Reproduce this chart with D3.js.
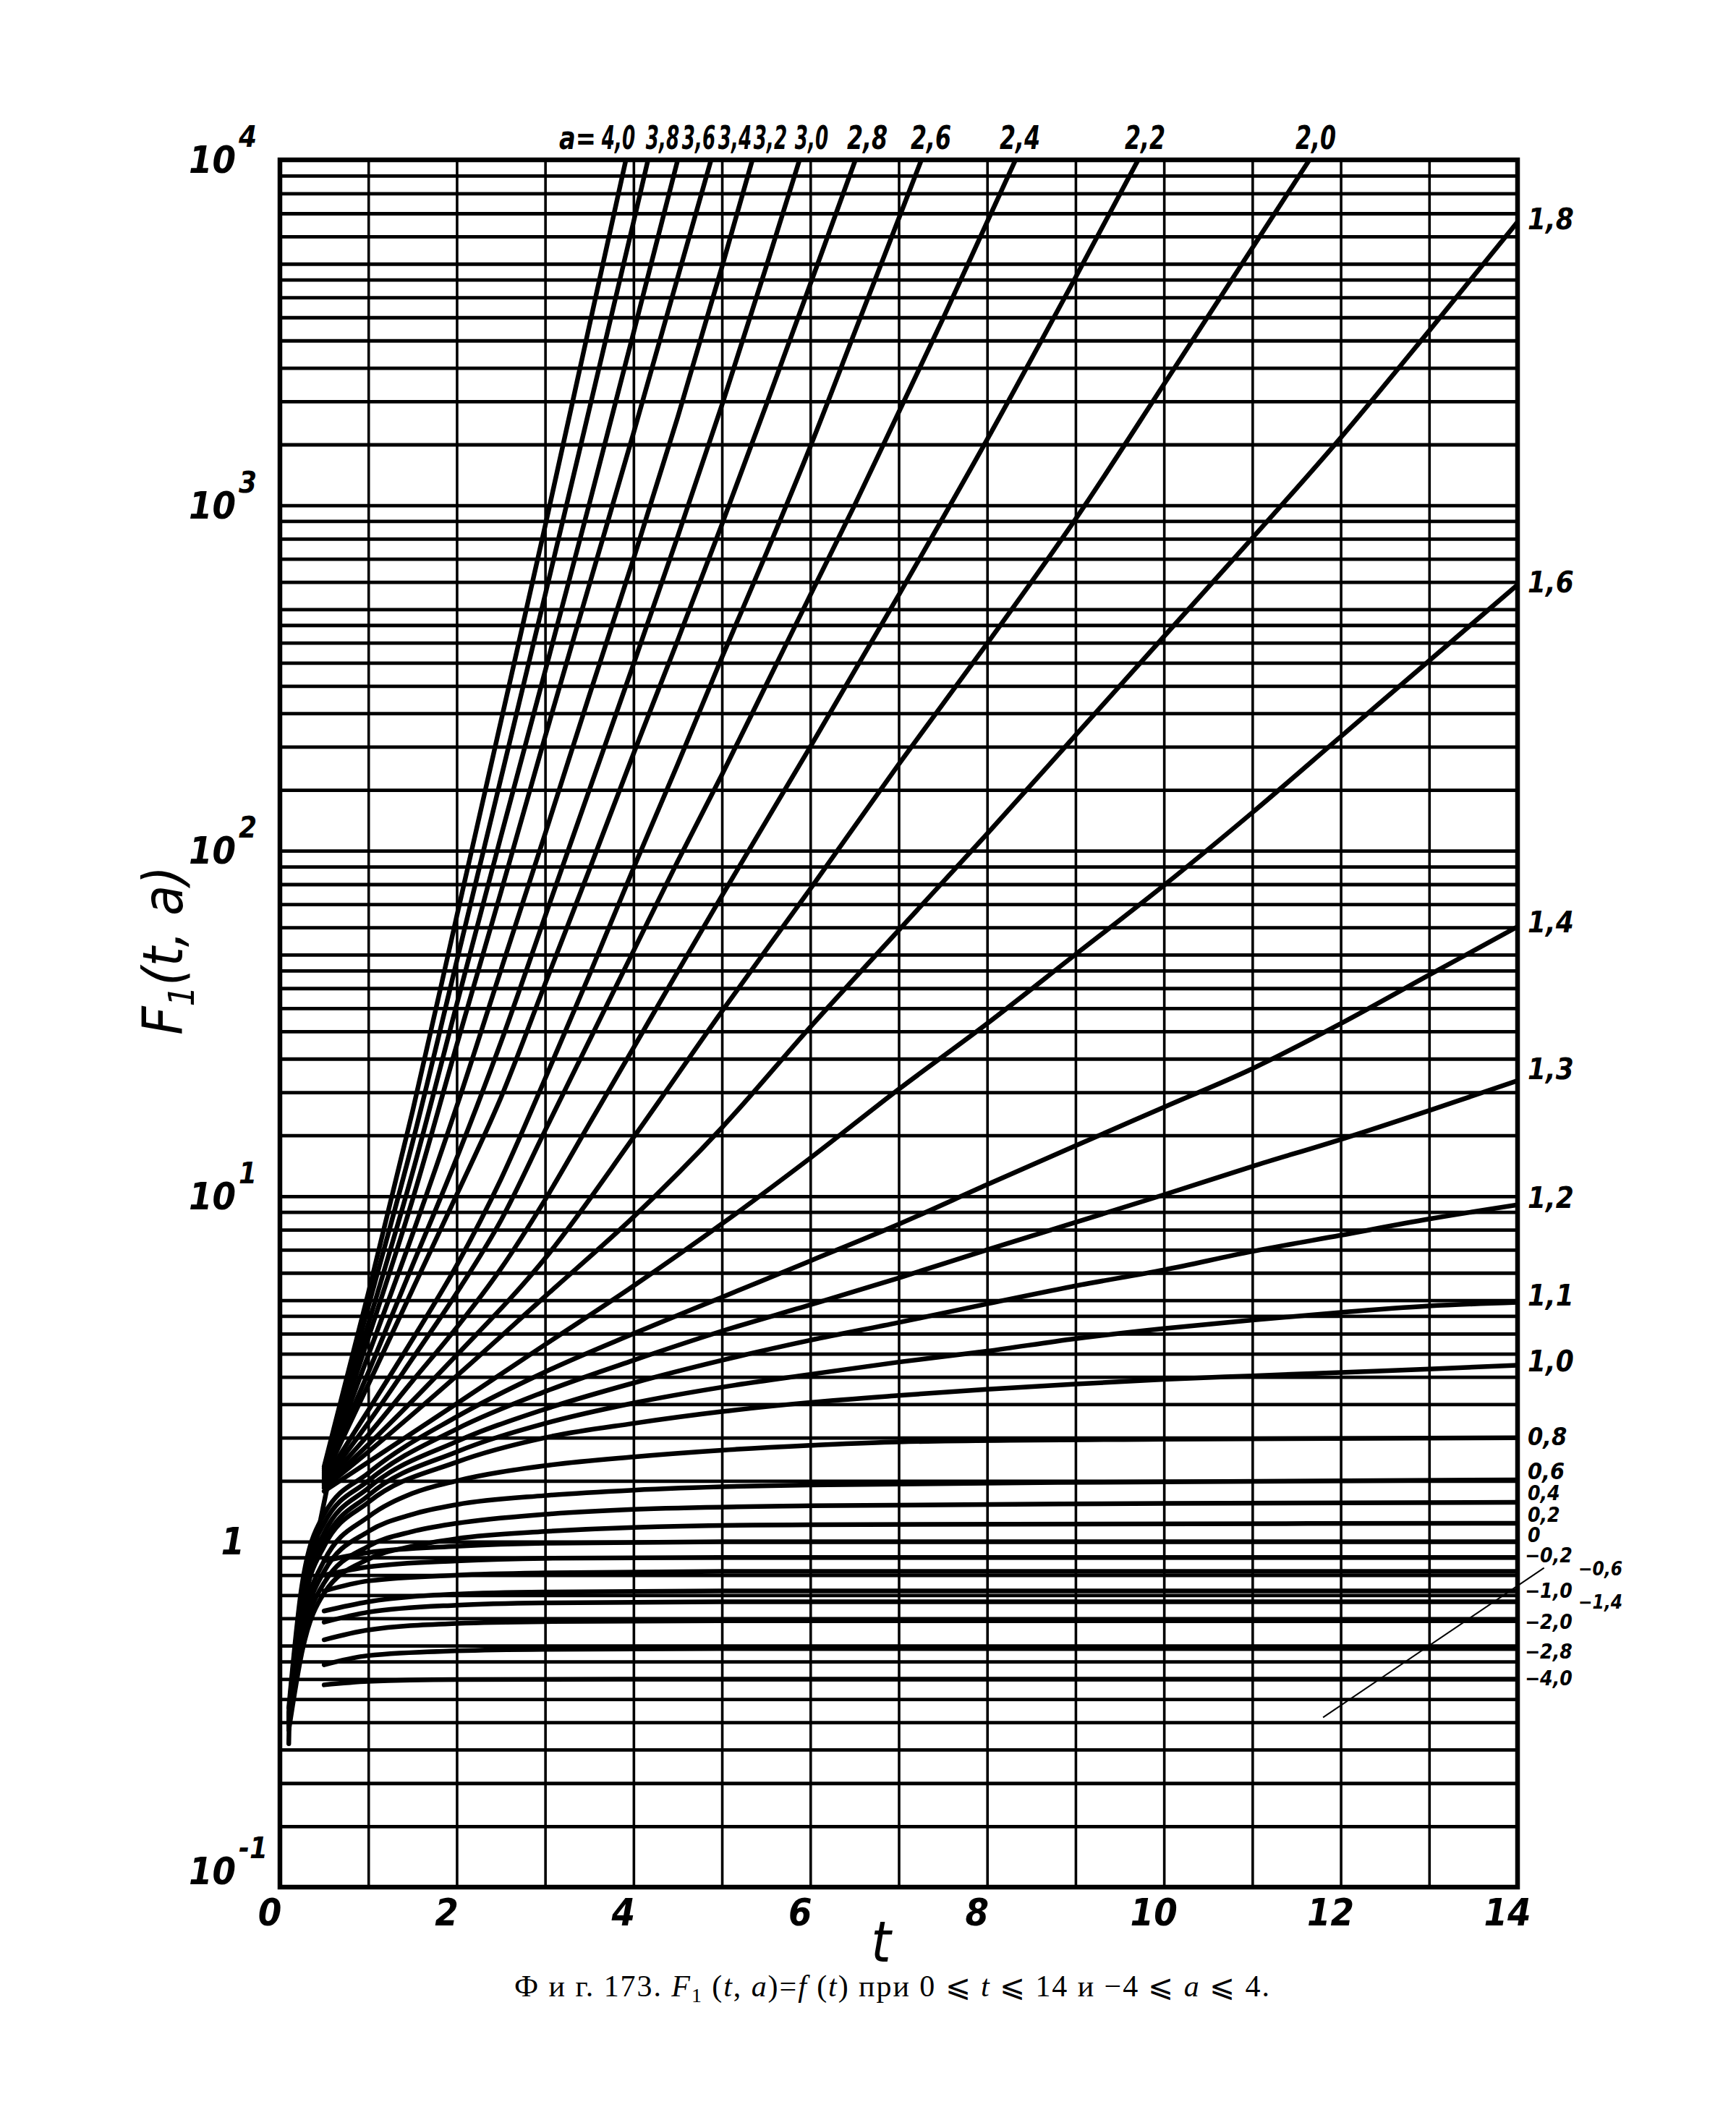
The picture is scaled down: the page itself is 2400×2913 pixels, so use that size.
<!DOCTYPE html>
<html><head><meta charset="utf-8">
<script src="https://cdn.jsdelivr.net/npm/d3@7"></script>
<style>
body{margin:0;background:#fff}
.lab{font-family:"DejaVu Sans Condensed","DejaVu Sans",sans-serif;font-stretch:condensed;font-style:italic;fill:#000}
.cap{font-family:"Liberation Serif","DejaVu Serif",serif;fill:#000}
</style></head><body>
<svg id="chart" width="2400" height="2913"></svg>
<script>
// ---------------- data ----------------
const tTickLabels = [0,2,4,6,8,10,12,14];
const tGridLines = [0,1,2,3,4,5,6,7,8,9,10,11,12,13,14];
const gridMantissa = [1,1.5,2,2.5,3,3.5,4,4.5,5,6,7,8,9];
const gridDecades = [-1,0,1,2,3];
const yTickExponents = [4,3,2,1,0,-1];

const aValues = ["4,0","3,8","3,6","3,4","3,2","3,0","2,8","2,6","2,4","2,2","2,0",
  "1,8","1,6","1,4","1,3","1,2","1,1","1,0","0,8","0,6","0,4","0,2","0","-0,2","-0,6","-1,0","-1,4","-2,0","-2,8","-4,0"];

const c40 = [[0.5,1.65],[1,5.25],[1.5,17.6],[2,64.6],[2.5,237],[3,871],[3.5,3310],[4,12600]];
const c38 = [[0.5,1.63],[1,4.79],[1.5,14.3],[2,47.9],[2.5,162],[3,550],[3.5,1900],[4,6610],[4.3,14100]];
const c36 = [[0.5,1.61],[1,4.27],[1.5,11.7],[2,35.9],[2.5,110],[3,331],[3.5,1010],[4,3160],[4.5,10000],[4.7,15800]];
const c34 = [[0.5,1.59],[1,3.89],[1.5,9.77],[2,27.4],[2.5,75.9],[3,214],[3.5,589],[4,1620],[4.5,4570],[5,12900]];
const c32 = [[0.5,1.57],[1,3.47],[1.5,7.76],[2,18.2],[2.5,45.2],[3,112],[3.5,282],[4,700],[4.5,1800],[5,4900],[5.5,13800]];
const c30 = [[0.5,1.55],[1,3.09],[1.5,6.31],[2,12.9],[2.5,27.9],[3,64.6],[3.5,150],[4,347],[4.5,813],[5,1950],[5.5,4900],[6,12600]];
const c28 = [[0.5,1.53],[1,2.85],[1.5,5.37],[2,10.1],[2.5,19.3],[3,41.2],[3.5,88.1],[4,191],[4.5,407],[5,881],[5.5,1950],[6,4370],[6.5,9840],[6.8,16200]];
const c26 = [[0.5,1.51],[1,2.40],[1.5,3.85],[2,6.31],[2.5,11.2],[3,21.9],[3.5,43.7],[4,89.1],[4.5,178],[5,363],[5.5,724],[6,1480],[6.5,3160],[7,6760],[7.5,14500]];
const c24 = [[0.5,1.49],[1,2.21],[1.5,3.39],[2,5.25],[2.5,8.51],[3,15.5],[3.5,28.2],[4,51.3],[4.5,93.3],[5,166],[5.5,302],[6,550],[6.5,1000],[7,1860],[7.5,3470],[8,6610],[8.5,12600]];
const c22 = [[0.5,1.47],[1,2.04],[1.5,2.92],[2,4.17],[2.5,6.17],[3,9.77],[3.5,16.2],[4,26.9],[4.5,44.7],[5,74.1],[6,200],[7,550],[8,1550],[9,4570],[10,13800]];
const c20 = [[0.5,1.45],[1,1.91],[2,3.47],[3,6.61],[4,14.8],[5,34.3],[6,77.6],[7,178],[8,398],[9,912],[10,2240],[11,5560],[12,13800]];
const c18 = [[0.5,1.43],[1,1.82],[2,3.02],[3,5.13],[4,8.71],[5,15.8],[6,30.9],[7,58.9],[8,112],[9,216],[10,417],[11,804],[12,1570],[13,3200],[14,6610]];
const c16 = [[0.5,1.40],[1,1.70],[2,2.51],[3,3.72],[4,5.5],[5,8.32],[6,12.9],[7,20.4],[8,31.6],[9,50.1],[10,79.4],[11,129],[12,214],[13,355],[14,589]];
const c14 = [[0.1,0.33],[0.25,0.75],[0.5,1.2],[1,1.58],[2,2.3],[3,3.1],[4,4.0],[5,5.1],[6,6.5],[7,8.3],[8,10.8],[9,14],[10,18.1],[11,23.4],[12,31.6],[13,43.7],[14,60.3]];
const c13 = [[0.1,0.32],[0.25,0.72],[0.5,1.13],[1,1.5],[2,2.12],[3,2.72],[4,3.35],[5,4.07],[6,4.85],[7,5.8],[8,7.0],[9,8.4],[10,10.1],[11,12.2],[12,14.6],[13,17.7],[14,21.6]];
const c12 = [[0.1,0.315],[0.25,0.68],[0.5,1.06],[1,1.43],[2,1.95],[3,2.42],[4,2.88],[5,3.35],[6,3.83],[7,4.31],[8,4.88],[9,5.5],[10,6.12],[11,6.92],[12,7.71],[13,8.59],[14,9.44]];
const c11 = [[0.1,0.31],[0.25,0.65],[0.5,1.0],[1,1.36],[2,1.82],[3,2.2],[4,2.52],[5,2.8],[6,3.05],[7,3.31],[8,3.56],[9,3.87],[10,4.14],[11,4.38],[12,4.61],[13,4.81],[14,4.93]];
const c10 = [[0.1,0.305],[0.25,0.62],[0.5,0.97],[1,1.3],[2,1.7],[3,2.0],[4,2.2],[5,2.38],[6,2.53],[7,2.65],[8,2.76],[9,2.86],[10,2.95],[11,3.02],[12,3.09],[13,3.16],[14,3.24]];
const c08 = [[0.1,0.3],[0.25,0.57],[0.5,0.88],[1,1.18],[1.5,1.38],[2,1.5],[3,1.66],[4,1.76],[5,1.84],[6,1.9],[7,1.945],[10,1.98],[14,2.0]];
const c06 = [[0.1,0.295],[0.25,0.54],[0.5,0.82],[1,1.07],[1.5,1.2],[2,1.28],[3,1.36],[4,1.41],[6,1.46],[10,1.49],[14,1.51]];
const c04 = [[0.1,0.29],[0.25,0.51],[0.5,0.76],[1,0.97],[1.5,1.07],[2,1.13],[3,1.2],[4,1.24],[6,1.27],[10,1.29],[14,1.3]];
const c02 = [[0.1,0.285],[0.25,0.48],[0.5,0.71],[1,0.89],[1.5,0.97],[2,1.02],[3,1.07],[4,1.1],[6,1.12],[14,1.13]];
const c00 = [[0.5,0.88],[1,0.93],[2,0.97],[3,0.99],[5,1.0],[14,1.0]];
const cm02 = [[0.5,0.8],[1,0.845],[2,0.88],[3,0.895],[5,0.9],[14,0.9]];
const cm06 = [[0.5,0.72],[1,0.77],[2,0.8],[3,0.812],[5,0.82],[14,0.82]];
const cm10 = [[0.5,0.63],[1,0.67],[2,0.705],[3,0.715],[5,0.72],[14,0.72]];
const cm14 = [[0.5,0.585],[1,0.625],[2,0.655],[3,0.665],[5,0.67],[14,0.67]];
const cm20 = [[0.5,0.52],[1,0.555],[2,0.58],[3,0.587],[5,0.59],[14,0.59]];
const cm28 = [[0.5,0.44],[1,0.468],[2,0.483],[3,0.488],[5,0.49],[14,0.49]];
const cm40 = [[0.5,0.385],[1,0.394],[2,0.399],[4,0.4],[14,0.4]];
const edgeCurve = [[0.1,0.26],[0.11,0.33],[0.15,0.4],[0.2,0.48],[0.3,0.7],[0.4,0.97],[0.5,1.3],[0.55,1.5]];
const strayLine = [[11.8,0.31],[14.3,0.84]];

const curveData = [c40,c38,c36,c34,c32,c30,c28,c26,c24,c22,c20,c18,c16,c14,c13,c12,c11,c10,
  c08,c06,c04,c02,c00,cm02,cm06,cm10,cm14,cm20,cm28,cm40];

// ---------------- layout ----------------
const W = 2400, H = 2913;
const M = {l:387, r:2098, t:221, b:2609};
const svg = d3.select("#chart");
svg.append("rect").attr("width",W).attr("height",H).attr("fill","#fff");

const x = d3.scaleLinear().domain([0,14]).range([M.l,M.r]);
const y = d3.scaleLog().domain([0.1,1e4]).range([M.b,M.t]);

// horizontal grid via axis
const hVals = gridDecades.flatMap(e => gridMantissa.map(mn => mn*Math.pow(10,e))).concat([1e4]);
const gy = svg.append("g").attr("transform",`translate(${M.l},0)`)
  .call(d3.axisLeft(y).tickValues(hVals).tickSize(-(M.r-M.l)).tickFormat(""));
gy.select(".domain").remove();
gy.selectAll("line").attr("stroke","#000").attr("stroke-width",4.8);

// vertical grid via axis
const gx = svg.append("g").attr("transform",`translate(0,${M.b})`)
  .call(d3.axisBottom(x).tickValues(tGridLines).tickSize(-(M.b-M.t)).tickFormat(""));
gx.select(".domain").remove();
gx.selectAll("line").attr("stroke","#000").attr("stroke-width",3.6);

// frame
svg.append("rect").attr("x",M.l).attr("y",M.t).attr("width",M.r-M.l).attr("height",M.b-M.t)
  .attr("fill","none").attr("stroke","#000").attr("stroke-width",6.5);

// clip
svg.append("clipPath").attr("id","clip").append("rect")
  .attr("x",M.l).attr("y",M.t).attr("width",M.r-M.l).attr("height",M.b-M.t);

const line = d3.line().x(d=>x(d[0])).y(d=>y(d[1])).curve(d3.curveMonotoneX);
const gc = svg.append("g").attr("clip-path","url(#clip)");
gc.selectAll("path.curve").data(curveData).join("path").attr("class","curve")
  .attr("d",line).attr("fill","none").attr("stroke","#000").attr("stroke-width",6.5)
  .attr("stroke-linecap","round").attr("stroke-linejoin","round");
gc.append("path").datum(edgeCurve).attr("d",line).attr("fill","none").attr("stroke","#000")
  .attr("stroke-width",6.5).attr("stroke-linecap","round");
svg.append("path").datum(strayLine).attr("d",d3.line().x(d=>x(d[0])).y(d=>y(d[1])))
  .attr("stroke","#000").attr("stroke-width",2).attr("fill","none");

// x tick labels
svg.selectAll("text.xt").data(tTickLabels).join("text").attr("class","lab xt")
  .attr("x",d=>x(d)-14).attr("y",M.b+53).attr("text-anchor","middle")
  .style("font-size","52px").style("font-weight","bold").text(d=>d);
svg.append("text").attr("class","lab").attr("x",1218).attr("y",2712).attr("text-anchor","middle")
  .style("font-size","78px").style("font-weight","normal").text("t");

// y tick labels
yTickExponents.forEach(e=>{
  const yy = y(Math.pow(10,e));
  if(e===0){
    svg.append("text").attr("class","lab").attr("x",338).attr("y",yy+18).attr("text-anchor","end")
      .style("font-size","52px").style("font-weight","bold").text("1");
    return;
  }
  const off = e===-1 ? -22 : 0;
  svg.append("text").attr("class","lab").attr("x",326).attr("y",yy+18+off).attr("text-anchor","end")
    .style("font-size","52px").style("font-weight","bold").text("10");
  svg.append("text").attr("class","lab").attr("x",330).attr("y",yy-18+off).attr("text-anchor","start")
    .style("font-size","40px").style("font-weight","bold").text(e===-1?"-1":String(e));
});

// y axis title
const yt = svg.append("text").attr("class","lab")
  .attr("transform","translate(252,1314) rotate(-90)").attr("text-anchor","middle")
  .style("font-size","76px").style("font-weight","normal");
yt.append("tspan").text("F");
yt.append("tspan").style("font-size","50px").attr("dy",16).text("1");
yt.append("tspan").attr("dy",-16).text("(t, a)");

// top labels (a = ...), horizontally compressed like the narrow drafting lettering
const topX = [855,916,966,1016,1065,1122,1199,1287,1410,1583,1819];
svg.append("text").attr("class","lab").attr("transform","translate(824,206) scale(0.85,1)")
  .attr("text-anchor","end").style("font-size","44px").style("font-weight","bold").text("a=");
topX.forEach((px,i)=>{
  svg.append("text").attr("class","lab").attr("transform",`translate(${px},206) scale(${i<6?0.66:0.8},1)`)
    .attr("text-anchor","middle").style("font-size","44px").style("font-weight","bold").text(aValues[i]);
});

// right labels
const rightLab = [[11,306,2112,40],[12,808,2112,40],[13,1278,2112,40],[14,1481,2112,40],[15,1659,2112,40],
  [16,1794,2112,40],[17,1885,2112,40],[18,1988,2112,34],[19,2036,2112,32],[20,2066,2112,28],[21,2096,2112,28],
  [22,2124,2112,28],[23,2152,2108,28],[24,2170,2182,26],[25,2201,2108,28],[26,2216,2182,26],[27,2244,2108,28],
  [28,2285,2108,28],[29,2322,2108,28]];
rightLab.forEach(([i,py,px,fs])=>{
  svg.append("text").attr("class","lab").attr("x",px).attr("y",py).attr("dominant-baseline","middle")
    .style("font-size",fs+"px").style("font-weight","bold").text(aValues[i].replace("-","\u2212"));
});

// caption
const cap = svg.append("text").attr("class","cap").attr("x",711).attr("y",2760)
  .style("font-size","42px").attr("textLength",1044).attr("lengthAdjust","spacing");
cap.append("tspan").text("Ф и г. 173. ");
cap.append("tspan").style("font-style","italic").text("F");
cap.append("tspan").style("font-size","28px").attr("dy",8).text("1");
cap.append("tspan").attr("dy",-8).text(" (");
cap.append("tspan").style("font-style","italic").text("t");
cap.append("tspan").text(", ");
cap.append("tspan").style("font-style","italic").text("a");
cap.append("tspan").text(")=");
cap.append("tspan").style("font-style","italic").text("f");
cap.append("tspan").text(" (");
cap.append("tspan").style("font-style","italic").text("t");
cap.append("tspan").text(")  при  0 ⩽ ");
cap.append("tspan").style("font-style","italic").text("t");
cap.append("tspan").text(" ⩽ 14  и  −4 ⩽ ");
cap.append("tspan").style("font-style","italic").text("a");
cap.append("tspan").text(" ⩽ 4.");
</script></body></html>
